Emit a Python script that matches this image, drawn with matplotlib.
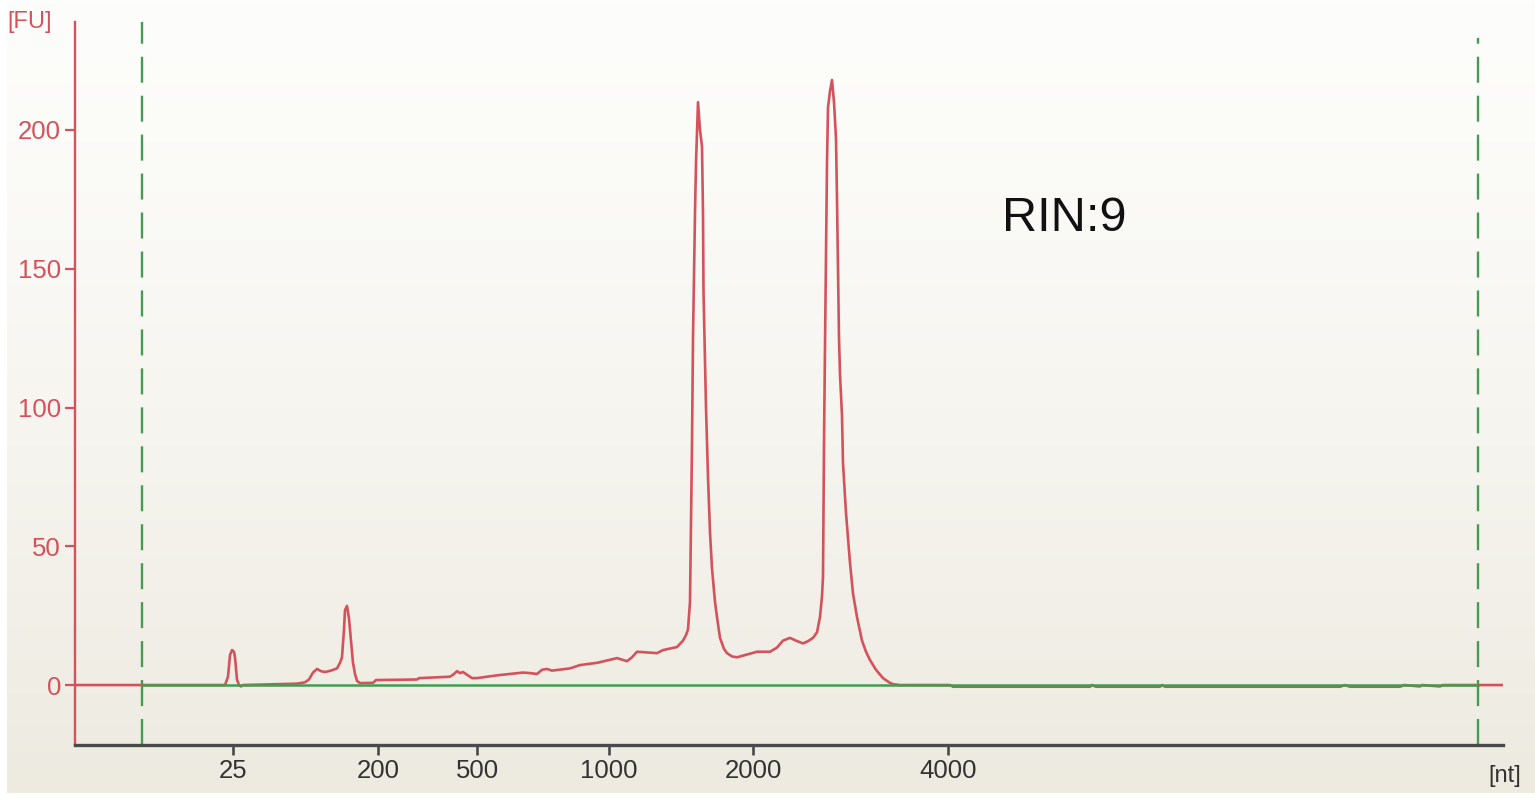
import numpy as np
import matplotlib
matplotlib.use("Agg")
import matplotlib.pyplot as plt

# --- Elektroferogram data (position along run, fluorescence FU) ---
trace_pos = [75, 225, 228, 230, 232, 234, 235, 237, 239, 241, 243,
             297, 305, 309, 313, 317, 321, 325, 331, 337, 340, 342, 344, 345, 347, 349, 350, 352, 353, 355, 357, 360,
             373, 376, 417, 419, 450, 454, 457, 460, 463, 468, 472, 477, 497, 523, 530, 537, 542, 547, 552,
             570, 580, 597, 617, 627, 632, 637, 657, 663, 677, 683, 686, 688, 690, 691, 692, 693, 695, 696, 698,
             700, 702, 703, 703.5, 705, 706, 708, 710, 712, 715, 717, 720, 724, 727, 732, 737, 745, 757, 770, 777,
             783, 790, 796, 803, 808, 813, 817, 820, 822, 823, 824, 825, 827, 828, 830, 832, 834, 836, 837, 838,
             839, 840, 842, 843, 846, 850, 853, 857, 862, 866, 870, 876, 883, 889, 893, 900,
             950, 953, 1090, 1092, 1096, 1160, 1162, 1165, 1340, 1345, 1350, 1400, 1404, 1420, 1422, 1440, 1443, 1503]
trace_fu = [0, 0, 3, 10.8, 12.6, 12, 10, 2, 0, -0.5, 0,
            0.5, 1, 2, 4.5, 5.8, 5, 4.7, 5.2, 6, 8, 10, 20, 27, 28.5, 24, 20, 12, 8, 4, 1.5, 0.7,
            0.8, 1.8, 2, 2.5, 3, 4, 5, 4.3, 4.7, 3.5, 2.5, 2.5, 3.5, 4.5, 4.3, 4, 5.5, 5.8, 5.2,
            6, 7.2, 8, 9.7, 8.6, 10, 12, 11.5, 12.6, 13.7, 16, 18, 20, 30, 60, 87, 125, 170, 188, 210,
            200, 194, 170, 142, 117, 100, 75, 55, 42, 30, 24.5, 17, 13, 11.5, 10.3, 10, 10.8, 12, 12, 13.5,
            16, 17, 16, 15, 15.8, 17, 19, 24.5, 32, 39, 87, 122, 188, 208, 214, 218, 210, 197, 175, 150,
            125, 112, 97, 80, 62, 44, 33, 24.5, 16, 12, 9, 5.5, 2.5, 1, 0.3, 0,
            0, -0.6, -0.6, 0, -0.6, -0.6, 0, -0.6, -0.6, 0, -0.6, -0.6, 0, -0.5, 0, -0.5, 0, 0]

# markers (lower / upper) and baseline range
marker_pos = [142, 1478]
marker_top = [238.9, 233]

# x-axis ladder labels
ladder_pos = [233, 378, 477, 609, 753, 948]
ladder_nt = ["25", "200", "500", "1000", "2000", "4000"]

fu_ticks = [0, 50, 100, 150, 200]
rin_text = "RIN:9"

red = "#d4525c"
green = "#3f9f4e"
gray = "#4a4a4a"

fig = plt.figure(figsize=(15.35, 8), dpi=100)

# --- Bakgrund (gradient vit -> beige) ---
bg = fig.add_axes([7 / 1535, 7 / 800, 1 - 7 / 1535, 1 - 7 / 800], zorder=0)
grad = np.linspace(0, 1, 256).reshape(-1, 1)
top_c = np.array([253, 253, 251]) / 255
bot_c = np.array([237, 234, 224]) / 255
img = top_c + (bot_c - top_c) * grad[..., None] ** 1.3
bg.imshow(img, aspect="auto", extent=[0, 1, 0, 1])
bg.axis("off")

ax = fig.add_axes([75 / 1535, 55 / 800, 1428 / 1535, 723 / 800], zorder=1)
ax.set_facecolor("none")
ax.set_xlim(75, 1503)
ax.set_ylim(-21.6, 238.9)

# --- Kurva ---
ax.plot(trace_pos, trace_fu, color=red, lw=1.9, zorder=3, solid_joinstyle="round")
ax.plot(marker_pos, [0, 0], color=green, lw=1.8, zorder=4)

for mp, mt in zip(marker_pos, marker_top):
    ax.plot([mp, mp], [-21.6, mt], color=green, lw=1.7, linestyle=(0, (11, 5.5)), zorder=2)

# --- Axlar ---
for s in ["top", "right"]:
    ax.spines[s].set_visible(False)
ax.spines["left"].set_color(red)
ax.spines["left"].set_linewidth(1.7)
ax.spines["bottom"].set_color(gray)
ax.spines["bottom"].set_linewidth(2.4)

ax.set_yticks(fu_ticks)
ax.set_xticks(ladder_pos)
ax.set_xticklabels(ladder_nt)
ax.tick_params(axis="y", colors=red, length=7, width=1.6, pad=3, labelsize=18.5)
ax.tick_params(axis="x", colors=gray, length=7, width=1.9, pad=3, labelsize=18.5)
for lab in ax.get_yticklabels() + ax.get_xticklabels():
    lab.set_fontfamily("Liberation Sans")
for lab in ax.get_yticklabels():
    lab.set_color(red)
for lab in ax.get_xticklabels():
    lab.set_color("#333333")

fig.text(30 / 1535, 1 - 22 / 800, "[FU]", color=red, fontsize=17, ha="center", va="center",
         family="Liberation Sans")
fig.text(1505 / 1535, 1 - 776 / 800, "[nt]", color="#333333", fontsize=17, ha="center", va="center",
         family="Liberation Sans")

ax.text(1064, 168, rin_text, fontsize=35, ha="center", va="center", color="#111111",
        family="Liberation Sans")

fig.savefig("out.png", dpi=100)
